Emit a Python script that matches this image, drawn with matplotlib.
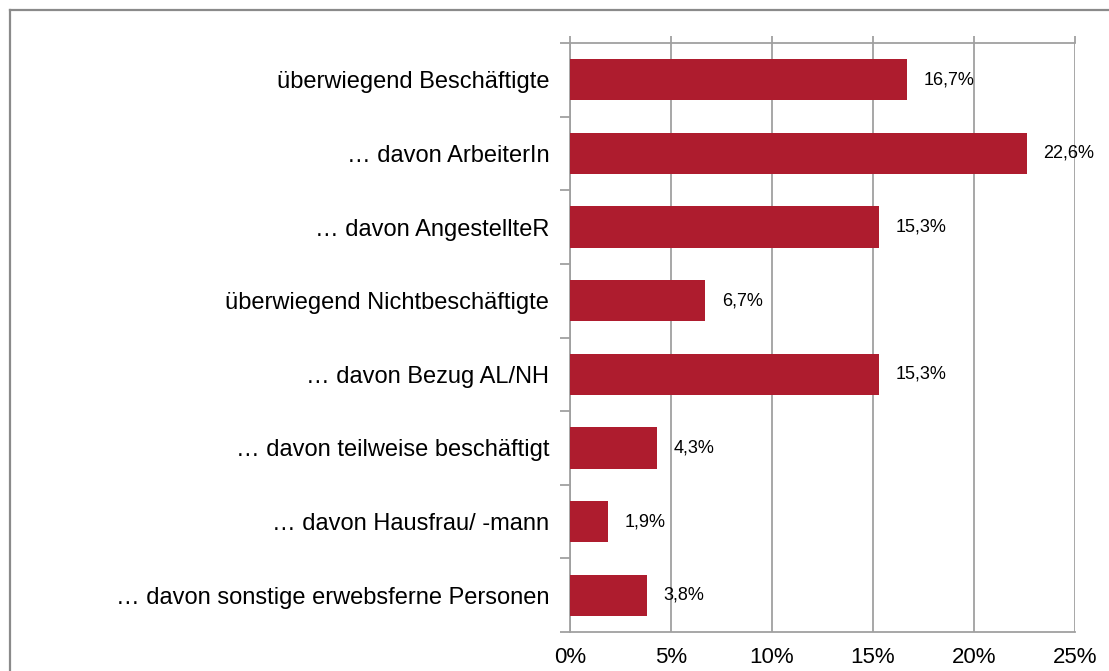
import matplotlib
matplotlib.use('Agg')
import matplotlib.pyplot as plt
import matplotlib.ticker as ticker
from matplotlib.lines import Line2D

plt.rcParams['font.family'] = ['Liberation Sans', 'DejaVu Sans']

# Daten
kategorien = ['überwiegend Beschäftigte',
              '… davon ArbeiterIn',
              '… davon AngestellteR',
              'überwiegend Nichtbeschäftigte',
              '… davon Bezug AL/NH',
              '… davon teilweise beschäftigt',
              '… davon Hausfrau/ -mann',
              '… davon sonstige erwebsferne Personen']
werte = [16.7, 22.6, 15.3, 6.7, 15.3, 4.3, 1.9, 3.8]
x_ticks = [0, 5, 10, 15, 20, 25]

rot = '#AE1C2E'
grau = '#A0A0A0'

fig = plt.figure(figsize=(11.09, 6.71), dpi=100)
ax = fig.add_axes([570/1109, 1 - 632/671, 505/1109, 589/671])

pos = list(range(len(kategorien)))
ax.barh(pos, werte, height=0.56, color=rot, zorder=3)

for p, v in zip(pos, werte):
    ax.annotate('{:.1f}%'.format(v).replace('.', ','), (v, p),
                xytext=(12, 0), textcoords='offset points',
                ha='left', va='center', fontsize=13, zorder=4)

ax.set_xlim(0, 25)
ax.set_ylim(len(kategorien) - 0.5, -0.5)
ax.set_xticks(x_ticks)
ax.xaxis.set_major_formatter(ticker.FuncFormatter(lambda x, _: '{:.0f}%'.format(x)))
ax.tick_params(axis='x', top=True, bottom=False, labeltop=False, labelbottom=True,
               length=5, width=1.3, color=grau, labelsize=16, pad=6)

ax.set_yticks(pos)
ax.set_yticklabels(kategorien)
ax.set_yticks([p - 0.5 for p in pos] + [len(pos) - 0.5], minor=True)
ax.tick_params(axis='y', which='major', length=0, labelsize=17, pad=15)
ax.tick_params(axis='y', which='minor', length=7, width=1.3, color=grau)

ax.grid(axis='x', color=grau, lw=1.3, zorder=0)
ax.spines['right'].set_visible(False)
for s in ['left', 'top', 'bottom']:
    ax.spines[s].set_color(grau)
    ax.spines[s].set_linewidth(1.3)

# Rahmen
rc = '#8A8A8A'
fig.add_artist(Line2D([9.5/1109, 9.5/1109], [0, 1 - 9.5/671], color=rc, lw=1.6))
fig.add_artist(Line2D([9.5/1109, 1], [1 - 9.5/671, 1 - 9.5/671], color=rc, lw=1.6))

fig.savefig('out.png', dpi=100)
